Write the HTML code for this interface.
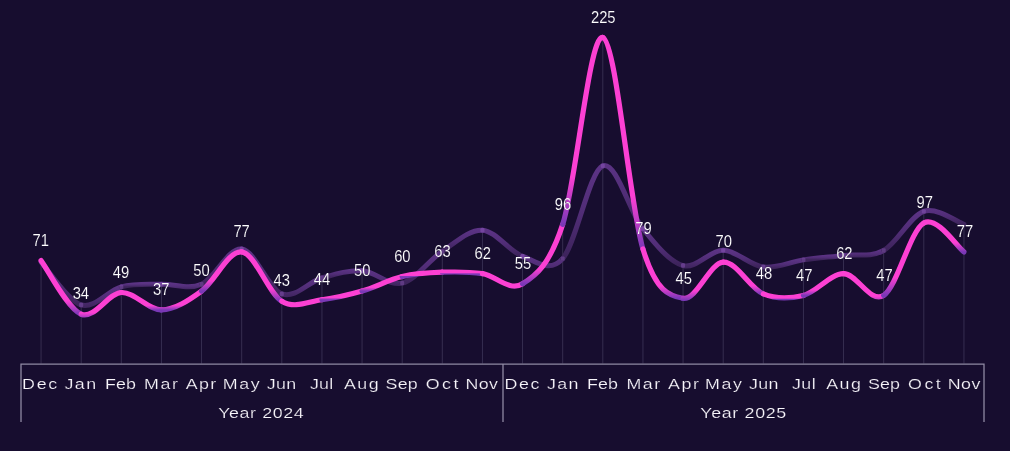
<!DOCTYPE html><html><head><meta charset="utf-8"><title>Chart</title><style>html,body{margin:0;padding:0;background:#170d2f}svg{display:block}text{font-family:"Liberation Sans",sans-serif}</style></head><body>
<svg width="1010" height="451" viewBox="0 0 1010 451">
<rect width="1010" height="451" fill="#170d2f"/>
<defs>
<linearGradient id="g0" gradientUnits="userSpaceOnUse" x1="0" y1="260.62" x2="0" y2="314.23"><stop offset="0" stop-color="#fc40d3"/><stop offset="0.75" stop-color="#fc40d3"/><stop offset="1" stop-color="#7a38b6"/></linearGradient>
<linearGradient id="g1" gradientUnits="userSpaceOnUse" x1="0" y1="292.5" x2="0" y2="319.55"><stop offset="0" stop-color="#fc40d3"/><stop offset="0.75" stop-color="#fc40d3"/><stop offset="1" stop-color="#7a38b6"/></linearGradient>
<linearGradient id="g2" gradientUnits="userSpaceOnUse" x1="0" y1="291.77" x2="0" y2="310.13"><stop offset="0" stop-color="#fc40d3"/><stop offset="0.75" stop-color="#fc40d3"/><stop offset="1" stop-color="#7a38b6"/></linearGradient>
<linearGradient id="g3" gradientUnits="userSpaceOnUse" x1="0" y1="291.05" x2="0" y2="309.89"><stop offset="0" stop-color="#fc40d3"/><stop offset="0.75" stop-color="#fc40d3"/><stop offset="1" stop-color="#7a38b6"/></linearGradient>
<linearGradient id="g4" gradientUnits="userSpaceOnUse" x1="0" y1="250.24" x2="0" y2="291.05"><stop offset="0" stop-color="#fc40d3"/><stop offset="0.75" stop-color="#fc40d3"/><stop offset="1" stop-color="#7a38b6"/></linearGradient>
<linearGradient id="g5" gradientUnits="userSpaceOnUse" x1="0" y1="251.93" x2="0" y2="301.19"><stop offset="0" stop-color="#fc40d3"/><stop offset="0.75" stop-color="#fc40d3"/><stop offset="1" stop-color="#7a38b6"/></linearGradient>
<linearGradient id="g6" gradientUnits="userSpaceOnUse" x1="0" y1="299.74" x2="0" y2="309.16"><stop offset="0" stop-color="#fc40d3"/><stop offset="0.75" stop-color="#fc40d3"/><stop offset="1" stop-color="#7a38b6"/></linearGradient>
<linearGradient id="g7" gradientUnits="userSpaceOnUse" x1="0" y1="291.05" x2="0" y2="299.74"><stop offset="0" stop-color="#fc40d3"/><stop offset="0.75" stop-color="#fc40d3"/><stop offset="1" stop-color="#7a38b6"/></linearGradient>
<linearGradient id="g8" gradientUnits="userSpaceOnUse" x1="0" y1="276.56" x2="0" y2="291.05"><stop offset="0" stop-color="#fc40d3"/><stop offset="0.75" stop-color="#fc40d3"/><stop offset="1" stop-color="#7a38b6"/></linearGradient>
<linearGradient id="g9" gradientUnits="userSpaceOnUse" x1="0" y1="272.21" x2="0" y2="276.56"><stop offset="0" stop-color="#fc40d3"/><stop offset="0.75" stop-color="#fc40d3"/><stop offset="1" stop-color="#7a38b6"/></linearGradient>
<linearGradient id="g10" gradientUnits="userSpaceOnUse" x1="0" y1="271.73" x2="0" y2="273.66"><stop offset="0" stop-color="#fc40d3"/><stop offset="0.75" stop-color="#fc40d3"/><stop offset="1" stop-color="#7a38b6"/></linearGradient>
<linearGradient id="g11" gradientUnits="userSpaceOnUse" x1="0" y1="273.66" x2="0" y2="292.02"><stop offset="0" stop-color="#fc40d3"/><stop offset="0.75" stop-color="#fc40d3"/><stop offset="1" stop-color="#7a38b6"/></linearGradient>
<linearGradient id="g12" gradientUnits="userSpaceOnUse" x1="0" y1="224.4" x2="0" y2="283.81"><stop offset="0" stop-color="#fc40d3"/><stop offset="0.75" stop-color="#fc40d3"/><stop offset="1" stop-color="#7a38b6"/></linearGradient>
<linearGradient id="g13" gradientUnits="userSpaceOnUse" x1="0" y1="33.37" x2="0" y2="224.4"><stop offset="0" stop-color="#fc40d3"/><stop offset="0.75" stop-color="#fc40d3"/><stop offset="1" stop-color="#7a38b6"/></linearGradient>
<linearGradient id="g14" gradientUnits="userSpaceOnUse" x1="0" y1="37.47" x2="0" y2="249.03"><stop offset="0" stop-color="#fc40d3"/><stop offset="0.75" stop-color="#fc40d3"/><stop offset="1" stop-color="#7a38b6"/></linearGradient>
<linearGradient id="g15" gradientUnits="userSpaceOnUse" x1="0" y1="249.03" x2="0" y2="298.3"><stop offset="0" stop-color="#fc40d3"/><stop offset="0.75" stop-color="#fc40d3"/><stop offset="1" stop-color="#7a38b6"/></linearGradient>
<linearGradient id="g16" gradientUnits="userSpaceOnUse" x1="0" y1="262.07" x2="0" y2="300.47"><stop offset="0" stop-color="#fc40d3"/><stop offset="0.75" stop-color="#fc40d3"/><stop offset="1" stop-color="#7a38b6"/></linearGradient>
<linearGradient id="g17" gradientUnits="userSpaceOnUse" x1="0" y1="261.35" x2="0" y2="293.95"><stop offset="0" stop-color="#fc40d3"/><stop offset="0.75" stop-color="#fc40d3"/><stop offset="1" stop-color="#7a38b6"/></linearGradient>
<linearGradient id="g18" gradientUnits="userSpaceOnUse" x1="0" y1="293.95" x2="0" y2="299.5"><stop offset="0" stop-color="#fc40d3"/><stop offset="0.75" stop-color="#fc40d3"/><stop offset="1" stop-color="#7a38b6"/></linearGradient>
<linearGradient id="g19" gradientUnits="userSpaceOnUse" x1="0" y1="273.66" x2="0" y2="295.4"><stop offset="0" stop-color="#fc40d3"/><stop offset="0.75" stop-color="#fc40d3"/><stop offset="1" stop-color="#7a38b6"/></linearGradient>
<linearGradient id="g20" gradientUnits="userSpaceOnUse" x1="0" y1="273.66" x2="0" y2="303.85"><stop offset="0" stop-color="#fc40d3"/><stop offset="0.75" stop-color="#fc40d3"/><stop offset="1" stop-color="#7a38b6"/></linearGradient>
<linearGradient id="g21" gradientUnits="userSpaceOnUse" x1="0" y1="222.95" x2="0" y2="295.4"><stop offset="0" stop-color="#fc40d3"/><stop offset="0.75" stop-color="#fc40d3"/><stop offset="1" stop-color="#7a38b6"/></linearGradient>
<linearGradient id="g22" gradientUnits="userSpaceOnUse" x1="0" y1="215.7" x2="0" y2="251.93"><stop offset="0" stop-color="#fc40d3"/><stop offset="0.75" stop-color="#fc40d3"/><stop offset="1" stop-color="#7a38b6"/></linearGradient>
<linearGradient id="h0" gradientUnits="userSpaceOnUse" x1="0" y1="262.07" x2="0" y2="304.96"><stop offset="0" stop-color="#5c3385"/><stop offset="0.5" stop-color="#512d77"/><stop offset="1" stop-color="#3c235a"/></linearGradient>
<linearGradient id="h1" gradientUnits="userSpaceOnUse" x1="0" y1="286.85" x2="0" y2="309.09"><stop offset="0" stop-color="#5c3385"/><stop offset="0.5" stop-color="#512d77"/><stop offset="1" stop-color="#3c235a"/></linearGradient>
<linearGradient id="h2" gradientUnits="userSpaceOnUse" x1="0" y1="283.39" x2="0" y2="286.85"><stop offset="0" stop-color="#5c3385"/><stop offset="0.5" stop-color="#512d77"/><stop offset="1" stop-color="#3c235a"/></linearGradient>
<linearGradient id="h3" gradientUnits="userSpaceOnUse" x1="0" y1="283.8" x2="0" y2="290.11"><stop offset="0" stop-color="#5c3385"/><stop offset="0.5" stop-color="#512d77"/><stop offset="1" stop-color="#3c235a"/></linearGradient>
<linearGradient id="h4" gradientUnits="userSpaceOnUse" x1="0" y1="247.41" x2="0" y2="284.24"><stop offset="0" stop-color="#5c3385"/><stop offset="0.5" stop-color="#512d77"/><stop offset="1" stop-color="#3c235a"/></linearGradient>
<linearGradient id="h5" gradientUnits="userSpaceOnUse" x1="0" y1="249.03" x2="0" y2="293.95"><stop offset="0" stop-color="#5c3385"/><stop offset="0.5" stop-color="#512d77"/><stop offset="1" stop-color="#3c235a"/></linearGradient>
<linearGradient id="h6" gradientUnits="userSpaceOnUse" x1="0" y1="278.01" x2="0" y2="298.78"><stop offset="0" stop-color="#5c3385"/><stop offset="0.5" stop-color="#512d77"/><stop offset="1" stop-color="#3c235a"/></linearGradient>
<linearGradient id="h7" gradientUnits="userSpaceOnUse" x1="0" y1="269.92" x2="0" y2="278.01"><stop offset="0" stop-color="#5c3385"/><stop offset="0.5" stop-color="#512d77"/><stop offset="1" stop-color="#3c235a"/></linearGradient>
<linearGradient id="h8" gradientUnits="userSpaceOnUse" x1="0" y1="270.76" x2="0" y2="286.32"><stop offset="0" stop-color="#5c3385"/><stop offset="0.5" stop-color="#512d77"/><stop offset="1" stop-color="#3c235a"/></linearGradient>
<linearGradient id="h9" gradientUnits="userSpaceOnUse" x1="0" y1="251.35" x2="0" y2="283.08"><stop offset="0" stop-color="#5c3385"/><stop offset="0.5" stop-color="#512d77"/><stop offset="1" stop-color="#3c235a"/></linearGradient>
<linearGradient id="h10" gradientUnits="userSpaceOnUse" x1="0" y1="229.37" x2="0" y2="251.35"><stop offset="0" stop-color="#5c3385"/><stop offset="0.5" stop-color="#512d77"/><stop offset="1" stop-color="#3c235a"/></linearGradient>
<linearGradient id="h11" gradientUnits="userSpaceOnUse" x1="0" y1="230.19" x2="0" y2="256.27"><stop offset="0" stop-color="#5c3385"/><stop offset="0.5" stop-color="#512d77"/><stop offset="1" stop-color="#3c235a"/></linearGradient>
<linearGradient id="h12" gradientUnits="userSpaceOnUse" x1="0" y1="256.27" x2="0" y2="273.66"><stop offset="0" stop-color="#5c3385"/><stop offset="0.5" stop-color="#512d77"/><stop offset="1" stop-color="#3c235a"/></linearGradient>
<linearGradient id="h13" gradientUnits="userSpaceOnUse" x1="0" y1="165.86" x2="0" y2="258.59"><stop offset="0" stop-color="#5c3385"/><stop offset="0.5" stop-color="#512d77"/><stop offset="1" stop-color="#3c235a"/></linearGradient>
<linearGradient id="h14" gradientUnits="userSpaceOnUse" x1="0" y1="160.88" x2="0" y2="228.74"><stop offset="0" stop-color="#5c3385"/><stop offset="0.5" stop-color="#512d77"/><stop offset="1" stop-color="#3c235a"/></linearGradient>
<linearGradient id="h15" gradientUnits="userSpaceOnUse" x1="0" y1="228.74" x2="0" y2="265.55"><stop offset="0" stop-color="#5c3385"/><stop offset="0.5" stop-color="#512d77"/><stop offset="1" stop-color="#3c235a"/></linearGradient>
<linearGradient id="h16" gradientUnits="userSpaceOnUse" x1="0" y1="250.09" x2="0" y2="269.15"><stop offset="0" stop-color="#5c3385"/><stop offset="0.5" stop-color="#512d77"/><stop offset="1" stop-color="#3c235a"/></linearGradient>
<linearGradient id="h17" gradientUnits="userSpaceOnUse" x1="0" y1="250.33" x2="0" y2="267"><stop offset="0" stop-color="#5c3385"/><stop offset="0.5" stop-color="#512d77"/><stop offset="1" stop-color="#3c235a"/></linearGradient>
<linearGradient id="h18" gradientUnits="userSpaceOnUse" x1="0" y1="259.9" x2="0" y2="268.59"><stop offset="0" stop-color="#5c3385"/><stop offset="0.5" stop-color="#512d77"/><stop offset="1" stop-color="#3c235a"/></linearGradient>
<linearGradient id="h19" gradientUnits="userSpaceOnUse" x1="0" y1="255.4" x2="0" y2="259.9"><stop offset="0" stop-color="#5c3385"/><stop offset="0.5" stop-color="#512d77"/><stop offset="1" stop-color="#3c235a"/></linearGradient>
<linearGradient id="h20" gradientUnits="userSpaceOnUse" x1="0" y1="250.48" x2="0" y2="257.82"><stop offset="0" stop-color="#5c3385"/><stop offset="0.5" stop-color="#512d77"/><stop offset="1" stop-color="#3c235a"/></linearGradient>
<linearGradient id="h21" gradientUnits="userSpaceOnUse" x1="0" y1="211.35" x2="0" y2="250.48"><stop offset="0" stop-color="#5c3385"/><stop offset="0.5" stop-color="#512d77"/><stop offset="1" stop-color="#3c235a"/></linearGradient>
<linearGradient id="h22" gradientUnits="userSpaceOnUse" x1="0" y1="207.01" x2="0" y2="224.4"><stop offset="0" stop-color="#5c3385"/><stop offset="0.5" stop-color="#512d77"/><stop offset="1" stop-color="#3c235a"/></linearGradient>
</defs>
<g stroke="#d8dcff" stroke-opacity="0.16" stroke-width="1">
<line x1="41.06" y1="260.62" x2="41.06" y2="363.5"/>
<line x1="81.19" y1="304.96" x2="81.19" y2="363.5"/>
<line x1="121.31" y1="286.85" x2="121.31" y2="363.5"/>
<line x1="161.44" y1="284.24" x2="161.44" y2="363.5"/>
<line x1="201.56" y1="284.24" x2="201.56" y2="363.5"/>
<line x1="241.69" y1="249.03" x2="241.69" y2="363.5"/>
<line x1="281.81" y1="293.95" x2="281.81" y2="363.5"/>
<line x1="321.94" y1="278.01" x2="321.94" y2="363.5"/>
<line x1="362.06" y1="270.76" x2="362.06" y2="363.5"/>
<line x1="402.19" y1="276.56" x2="402.19" y2="363.5"/>
<line x1="442.31" y1="251.35" x2="442.31" y2="363.5"/>
<line x1="482.44" y1="230.19" x2="482.44" y2="363.5"/>
<line x1="522.56" y1="256.27" x2="522.56" y2="363.5"/>
<line x1="562.69" y1="224.4" x2="562.69" y2="363.5"/>
<line x1="602.81" y1="37.47" x2="602.81" y2="363.5"/>
<line x1="642.94" y1="228.74" x2="642.94" y2="363.5"/>
<line x1="683.06" y1="265.55" x2="683.06" y2="363.5"/>
<line x1="723.19" y1="250.33" x2="723.19" y2="363.5"/>
<line x1="763.31" y1="267" x2="763.31" y2="363.5"/>
<line x1="803.44" y1="259.9" x2="803.44" y2="363.5"/>
<line x1="843.56" y1="255.4" x2="843.56" y2="363.5"/>
<line x1="883.69" y1="250.48" x2="883.69" y2="363.5"/>
<line x1="923.81" y1="211.35" x2="923.81" y2="363.5"/>
<line x1="963.94" y1="224.4" x2="963.94" y2="363.5"/>
</g>
<g stroke="#8f89a3" stroke-width="1.3" fill="none">
<path d="M21 422 V364.1 H984 V422"/>
<path d="M503 364.1 V422"/>
</g>
<g fill="none" stroke-width="5" stroke-linecap="round">
<path stroke="url(#h0)" d="M41.06 262.07C47.75 269.22 67.81 300.83 81.19 304.96"/>
<path stroke="url(#h1)" d="M81.19 304.96C94.56 309.09 107.94 290.3 121.31 286.85"/>
<path stroke="url(#h2)" d="M121.31 286.85C134.69 283.39 148.06 284.67 161.44 284.24"/>
<path stroke="url(#h3)" d="M161.44 284.24C174.81 283.8 188.19 290.11 201.56 284.24"/>
<path stroke="url(#h4)" d="M201.56 284.24C214.94 278.37 228.31 247.41 241.69 249.03"/>
<path stroke="url(#h5)" d="M241.69 249.03C255.06 250.65 268.44 289.12 281.81 293.95"/>
<path stroke="url(#h6)" d="M281.81 293.95C295.19 298.78 308.56 281.87 321.94 278.01"/>
<path stroke="url(#h7)" d="M321.94 278.01C335.31 274.15 348.69 269.92 362.06 270.76"/>
<path stroke="url(#h8)" d="M362.06 270.76C375.44 271.61 388.81 286.32 402.19 283.08"/>
<path stroke="url(#h9)" d="M402.19 283.08C415.56 279.84 428.94 260.16 442.31 251.35"/>
<path stroke="url(#h10)" d="M442.31 251.35C455.69 242.53 469.06 229.37 482.44 230.19"/>
<path stroke="url(#h11)" d="M482.44 230.19C495.81 231.01 509.19 251.54 522.56 256.27"/>
<path stroke="url(#h12)" d="M522.56 256.27C535.94 261.01 549.31 273.66 562.69 258.59"/>
<path stroke="url(#h13)" d="M562.69 258.59C576.06 243.52 589.44 170.83 602.81 165.86"/>
<path stroke="url(#h14)" d="M602.81 165.86C616.19 160.88 629.56 212.13 642.94 228.74"/>
<path stroke="url(#h15)" d="M642.94 228.74C656.31 245.36 669.69 261.95 683.06 265.55"/>
<path stroke="url(#h16)" d="M683.06 265.55C696.44 269.15 709.81 250.09 723.19 250.33"/>
<path stroke="url(#h17)" d="M723.19 250.33C736.56 250.57 749.94 265.4 763.31 267"/>
<path stroke="url(#h18)" d="M763.31 267C776.69 268.59 790.06 261.83 803.44 259.9"/>
<path stroke="url(#h19)" d="M803.44 259.9C816.81 257.96 830.19 256.97 843.56 255.4"/>
<path stroke="url(#h20)" d="M843.56 255.4C856.94 253.83 870.31 257.82 883.69 250.48"/>
<path stroke="url(#h21)" d="M883.69 250.48C897.06 243.14 910.44 215.7 923.81 211.35"/>
<path stroke="url(#h22)" d="M923.81 211.35C937.19 207.01 957.25 222.22 963.94 224.4"/>
</g>
<g fill="#b070e0" fill-opacity="0.3">
<rect x="79.19" y="302.76" width="4" height="4.4" rx="1.2"/>
<rect x="119.31" y="284.65" width="4" height="4.4" rx="1.2"/>
<rect x="159.44" y="282.04" width="4" height="4.4" rx="1.2"/>
<rect x="199.56" y="282.04" width="4" height="4.4" rx="1.2"/>
<rect x="239.69" y="246.83" width="4" height="4.4" rx="1.2"/>
<rect x="279.81" y="291.75" width="4" height="4.4" rx="1.2"/>
<rect x="319.94" y="275.81" width="4" height="4.4" rx="1.2"/>
<rect x="360.06" y="268.56" width="4" height="4.4" rx="1.2"/>
<rect x="400.19" y="280.88" width="4" height="4.4" rx="1.2"/>
<rect x="440.31" y="249.15" width="4" height="4.4" rx="1.2"/>
<rect x="480.44" y="227.99" width="4" height="4.4" rx="1.2"/>
<rect x="520.56" y="254.07" width="4" height="4.4" rx="1.2"/>
<rect x="560.69" y="256.39" width="4" height="4.4" rx="1.2"/>
<rect x="600.81" y="163.66" width="4" height="4.4" rx="1.2"/>
<rect x="640.94" y="226.54" width="4" height="4.4" rx="1.2"/>
<rect x="681.06" y="263.35" width="4" height="4.4" rx="1.2"/>
<rect x="721.19" y="248.13" width="4" height="4.4" rx="1.2"/>
<rect x="761.31" y="264.8" width="4" height="4.4" rx="1.2"/>
<rect x="801.44" y="257.7" width="4" height="4.4" rx="1.2"/>
<rect x="841.56" y="253.2" width="4" height="4.4" rx="1.2"/>
<rect x="881.69" y="248.28" width="4" height="4.4" rx="1.2"/>
<rect x="921.81" y="209.16" width="4" height="4.4" rx="1.2"/>
</g>
<g fill="none" stroke-width="5.2" stroke-linecap="round">
<path stroke="url(#g0)" d="M41.06 260.62C47.75 269.56 67.81 308.92 81.19 314.23"/>
<path stroke="url(#g1)" d="M81.19 314.23C94.56 319.55 107.94 293.22 121.31 292.5"/>
<path stroke="url(#g2)" d="M121.31 292.5C134.69 291.77 148.06 310.13 161.44 309.89"/>
<path stroke="url(#g3)" d="M161.44 309.89C174.81 309.65 188.19 300.71 201.56 291.05"/>
<path stroke="url(#g4)" d="M201.56 291.05C214.94 281.39 228.31 250.24 241.69 251.93"/>
<path stroke="url(#g5)" d="M241.69 251.93C255.06 253.62 268.44 293.22 281.81 301.19"/>
<path stroke="url(#g6)" d="M281.81 301.19C295.19 309.16 308.56 301.43 321.94 299.74"/>
<path stroke="url(#g7)" d="M321.94 299.74C335.31 298.05 348.69 294.91 362.06 291.05"/>
<path stroke="url(#g8)" d="M362.06 291.05C375.44 287.19 388.81 279.7 402.19 276.56"/>
<path stroke="url(#g9)" d="M402.19 276.56C415.56 273.42 428.94 272.7 442.31 272.21"/>
<path stroke="url(#g10)" d="M442.31 272.21C455.69 271.73 469.06 271.73 482.44 273.66"/>
<path stroke="url(#g11)" d="M482.44 273.66C495.81 275.59 509.19 292.02 522.56 283.81"/>
<path stroke="url(#g12)" d="M522.56 283.81C535.94 275.59 549.31 265.45 562.69 224.4"/>
<path stroke="url(#g13)" d="M562.69 224.4C576.06 183.34 589.44 33.37 602.81 37.47"/>
<path stroke="url(#g14)" d="M602.81 37.47C616.19 41.58 629.56 205.56 642.94 249.03"/>
<path stroke="url(#g15)" d="M642.94 249.03C656.31 292.5 669.69 296.12 683.06 298.3"/>
<path stroke="url(#g16)" d="M683.06 298.3C696.44 300.47 709.81 262.79 723.19 262.07"/>
<path stroke="url(#g17)" d="M723.19 262.07C736.56 261.35 749.94 288.39 763.31 293.95"/>
<path stroke="url(#g18)" d="M763.31 293.95C776.69 299.5 790.06 298.78 803.44 295.4"/>
<path stroke="url(#g19)" d="M803.44 295.4C816.81 292.02 830.19 273.66 843.56 273.66"/>
<path stroke="url(#g20)" d="M843.56 273.66C856.94 273.66 870.31 303.85 883.69 295.4"/>
<path stroke="url(#g21)" d="M883.69 295.4C897.06 286.94 910.44 230.19 923.81 222.95"/>
<path stroke="url(#g22)" d="M923.81 222.95C937.19 215.7 957.25 247.1 963.94 251.93"/>
</g>
<g fill="#ffffff" font-size="15" text-anchor="middle" stroke="#170d2f" stroke-width="0.12">
<text transform="translate(40.66 245.82) scale(0.985 1.07)">71</text>
<text transform="translate(80.85 299.43) scale(0.985 1.07)">34</text>
<text transform="translate(121.03 277.7) scale(0.985 1.07)">49</text>
<text transform="translate(161.22 295.09) scale(0.985 1.07)">37</text>
<text transform="translate(201.4 276.25) scale(0.985 1.07)">50</text>
<text transform="translate(241.59 237.13) scale(0.985 1.07)">77</text>
<text transform="translate(281.77 286.39) scale(0.985 1.07)">43</text>
<text transform="translate(321.96 284.94) scale(0.985 1.07)">44</text>
<text transform="translate(362.14 276.25) scale(0.985 1.07)">50</text>
<text transform="translate(402.33 261.76) scale(0.985 1.07)">60</text>
<text transform="translate(442.51 257.41) scale(0.985 1.07)">63</text>
<text transform="translate(482.7 258.86) scale(0.985 1.07)">62</text>
<text transform="translate(522.88 269) scale(0.985 1.07)">55</text>
<text transform="translate(563.07 209.6) scale(0.985 1.07)">96</text>
<text transform="translate(603.25 23.27) scale(0.985 1.07)">225</text>
<text transform="translate(643.44 234.23) scale(0.985 1.07)">79</text>
<text transform="translate(683.62 283.5) scale(0.985 1.07)">45</text>
<text transform="translate(723.81 247.27) scale(0.985 1.07)">70</text>
<text transform="translate(763.99 279.15) scale(0.985 1.07)">48</text>
<text transform="translate(804.18 280.6) scale(0.985 1.07)">47</text>
<text transform="translate(844.36 258.86) scale(0.985 1.07)">62</text>
<text transform="translate(884.55 280.6) scale(0.985 1.07)">47</text>
<text transform="translate(924.73 208.15) scale(0.985 1.07)">97</text>
<text transform="translate(964.92 237.13) scale(0.985 1.07)">77</text>
</g>
<g fill="#f8f6fb" font-size="15.5" stroke="#170d2f" stroke-width="0.2">
<text transform="translate(22.1 388.8) scale(1.15 1)" textLength="30.52" lengthAdjust="spacing">Dec</text>
<text transform="translate(64.5 388.8) scale(1.15 1)" textLength="27.48" lengthAdjust="spacing">Jan</text>
<text transform="translate(105 388.8) scale(1.15 1)" textLength="26.78" lengthAdjust="spacing">Feb</text>
<text transform="translate(144.1 388.8) scale(1.15 1)" textLength="29.48" lengthAdjust="spacing">Mar</text>
<text transform="translate(185.8 388.8) scale(1.15 1)" textLength="26.52" lengthAdjust="spacing">Apr</text>
<text transform="translate(222.8 388.8) scale(1.15 1)" textLength="32" lengthAdjust="spacing">May</text>
<text transform="translate(266.7 388.8) scale(1.15 1)" textLength="25.65" lengthAdjust="spacing">Jun</text>
<text transform="translate(309.9 388.8) scale(1.15 1)" textLength="20.35" lengthAdjust="spacing">Jul</text>
<text transform="translate(343.9 388.8) scale(1.15 1)" textLength="30.17" lengthAdjust="spacing">Aug</text>
<text transform="translate(385.6 388.8) scale(1.15 1)" textLength="27.91" lengthAdjust="spacing">Sep</text>
<text transform="translate(425.8 388.8) scale(1.15 1)" textLength="28.35" lengthAdjust="spacing">Oct</text>
<text transform="translate(465.4 388.8) scale(1.15 1)" textLength="28.35" lengthAdjust="spacing">Nov</text>
<text transform="translate(504.6 388.8) scale(1.15 1)" textLength="30.17" lengthAdjust="spacing">Dec</text>
<text transform="translate(547.1 388.8) scale(1.15 1)" textLength="27.22" lengthAdjust="spacing">Jan</text>
<text transform="translate(587 388.8) scale(1.15 1)" textLength="26.78" lengthAdjust="spacing">Feb</text>
<text transform="translate(626.4 388.8) scale(1.15 1)" textLength="29.48" lengthAdjust="spacing">Mar</text>
<text transform="translate(668.1 388.8) scale(1.15 1)" textLength="26.78" lengthAdjust="spacing">Apr</text>
<text transform="translate(704.9 388.8) scale(1.15 1)" textLength="32.17" lengthAdjust="spacing">May</text>
<text transform="translate(749 388.8) scale(1.15 1)" textLength="25.65" lengthAdjust="spacing">Jun</text>
<text transform="translate(792 388.8) scale(1.15 1)" textLength="20.52" lengthAdjust="spacing">Jul</text>
<text transform="translate(826.2 388.8) scale(1.15 1)" textLength="30.17" lengthAdjust="spacing">Aug</text>
<text transform="translate(867.9 388.8) scale(1.15 1)" textLength="27.91" lengthAdjust="spacing">Sep</text>
<text transform="translate(908.1 388.8) scale(1.15 1)" textLength="28.35" lengthAdjust="spacing">Oct</text>
<text transform="translate(947.7 388.8) scale(1.15 1)" textLength="28.35" lengthAdjust="spacing">Nov</text>
<text transform="translate(218.2 417.9) scale(1.15 1)" textLength="74.35" lengthAdjust="spacing">Year 2024</text>
<text transform="translate(700.3 417.9) scale(1.15 1)" textLength="74.7" lengthAdjust="spacing">Year 2025</text>
</g>
</svg></body></html>
